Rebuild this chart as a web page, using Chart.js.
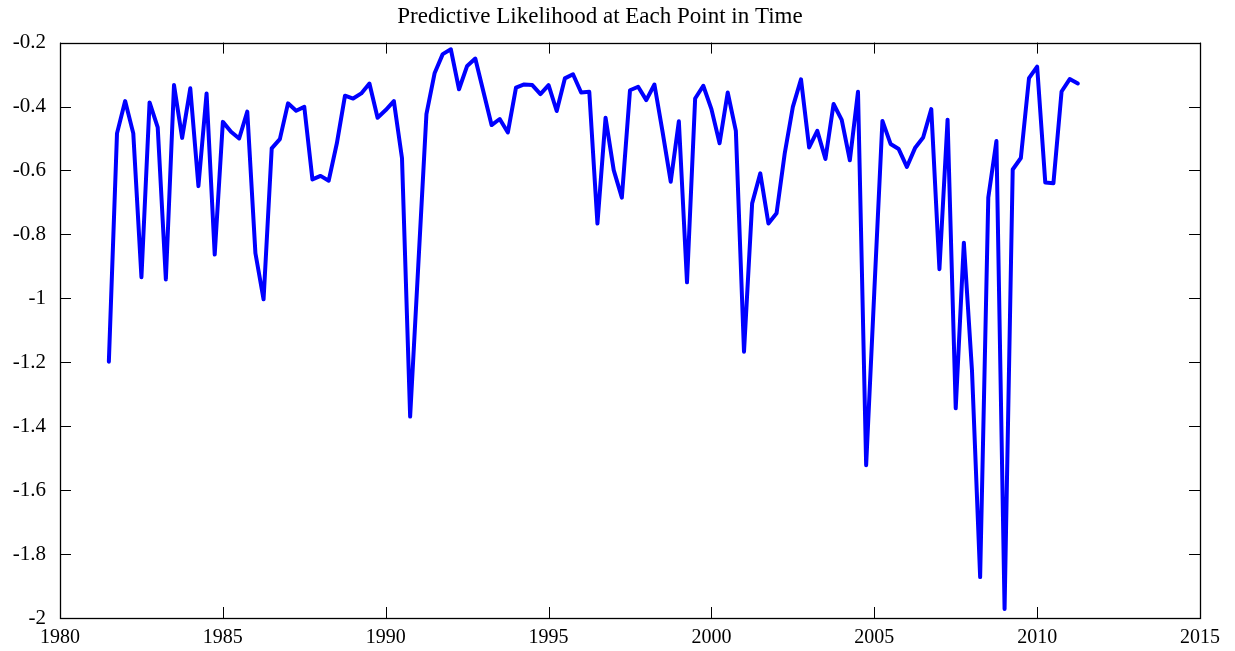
<!DOCTYPE html>
<html>
<head>
<meta charset="utf-8">
<title>Predictive Likelihood</title>
<script src="https://cdn.jsdelivr.net/npm/chart.js@4.4.1/dist/chart.umd.min.js"></script>
<style>
    html, body { margin: 0; padding: 0; background: #fff; }
    #wrap { width: 1235px; height: 651px; }
</style>
</head>
<body>
<div id="wrap"><canvas id="plChart" width="1235" height="651"></canvas></div>
<script>
// Quarterly dates (decimal years)
const quarters = [
    1981.5, 1981.75,
    1982, 1982.25, 1982.5, 1982.75,
    1983, 1983.25, 1983.5, 1983.75,
    1984, 1984.25, 1984.5, 1984.75,
    1985, 1985.25, 1985.5, 1985.75,
    1986, 1986.25, 1986.5, 1986.75,
    1987, 1987.25, 1987.5, 1987.75,
    1988, 1988.25, 1988.5, 1988.75,
    1989, 1989.25, 1989.5, 1989.75,
    1990, 1990.25, 1990.5, 1990.75,
    1991, 1991.25, 1991.5, 1991.75,
    1992, 1992.25, 1992.5, 1992.75,
    1993, 1993.25, 1993.5, 1993.75,
    1994, 1994.25, 1994.5, 1994.75,
    1995, 1995.25, 1995.5, 1995.75,
    1996, 1996.25, 1996.5, 1996.75,
    1997, 1997.25, 1997.5, 1997.75,
    1998, 1998.25, 1998.5, 1998.75,
    1999, 1999.25, 1999.5, 1999.75,
    2000, 2000.25, 2000.5, 2000.75,
    2001, 2001.25, 2001.5, 2001.75,
    2002, 2002.25, 2002.5, 2002.75,
    2003, 2003.25, 2003.5, 2003.75,
    2004, 2004.25, 2004.5, 2004.75,
    2005, 2005.25, 2005.5, 2005.75,
    2006, 2006.25, 2006.5, 2006.75,
    2007, 2007.25, 2007.5, 2007.75,
    2008, 2008.25, 2008.5, 2008.75,
    2009, 2009.25, 2009.5, 2009.75,
    2010, 2010.25, 2010.5, 2010.75,
    2011, 2011.25
];

// Predictive likelihood
const likelihood = [
    -1.198, -0.484,
    -0.383, -0.484, -0.934, -0.387,
    -0.465, -0.941, -0.333, -0.498,
    -0.343, -0.649, -0.359, -0.863,
    -0.448, -0.479, -0.500, -0.416,
    -0.859, -1.003, -0.531, -0.502,
    -0.390, -0.413, -0.401, -0.628,
    -0.617, -0.632, -0.515, -0.366,
    -0.375, -0.359, -0.328, -0.435,
    -0.411, -0.383, -0.562, -1.370,
    -0.897, -0.424, -0.296, -0.236,
    -0.221, -0.346, -0.273, -0.250,
    -0.354, -0.458, -0.439, -0.481,
    -0.341, -0.331, -0.333, -0.361,
    -0.333, -0.414, -0.312, -0.299,
    -0.356, -0.354, -0.766, -0.435,
    -0.599, -0.685, -0.349, -0.338,
    -0.380, -0.331, -0.479, -0.635,
    -0.446, -0.950, -0.375, -0.335,
    -0.408, -0.515, -0.356, -0.476,
    -1.167, -0.703, -0.609, -0.766,
    -0.734, -0.547, -0.401, -0.315,
    -0.528, -0.476, -0.564, -0.392,
    -0.442, -0.568, -0.354, -1.522,
    -0.980, -0.445, -0.517, -0.533,
    -0.589, -0.530, -0.497, -0.408,
    -0.909, -0.441, -1.344, -0.826,
    -1.227, -1.872, -0.685, -0.508,
    -1.972, -0.597, -0.561, -0.311,
    -0.275, -0.638, -0.640, -0.353,
    -0.314, -0.328
];

// Axis ranges / tick steps
const xRange = [1980, 2015];
const xStep = 5;
const yRange = [-2, -0.2];
const yStep = 0.2;

const titleText = "Predictive Likelihood at Each Point in Time";
const serif = "'Liberation Serif', 'DejaVu Serif', serif";

// Box around the plot with inward ticks on all four sides (Matlab style)
const boxTicks = {
    id: 'boxTicks',
    afterDraw(chart) {
        const { ctx, chartArea: a, scales } = chart;
        const len = 11;
        ctx.save();
        ctx.strokeStyle = '#000';
        ctx.lineWidth = 1;
        ctx.beginPath();

        scales.x.ticks.forEach(t => {
            const px = Math.round(scales.x.getPixelForValue(t.value)) + 0.5;
            ctx.moveTo(px, a.bottom);
            ctx.lineTo(px, a.bottom - len);
            ctx.moveTo(px, a.top);
            ctx.lineTo(px, a.top + len);
        });
        scales.y.ticks.forEach(t => {
            const py = Math.round(scales.y.getPixelForValue(t.value)) + 0.5;
            ctx.moveTo(a.left, py);
            ctx.lineTo(a.left + len, py);
            ctx.moveTo(a.right, py);
            ctx.lineTo(a.right - len, py);
        });
        ctx.stroke();

        ctx.lineWidth = 1.3;
        ctx.strokeRect(Math.round(a.left) + 0.5, Math.round(a.top) + 0.5,
            Math.round(a.right - a.left), Math.round(a.bottom - a.top));
        ctx.restore();
    }
};

const points = quarters.map((q, i) => ({ x: q, y: likelihood[i] }));

new Chart(document.getElementById('plChart'), {
    type: 'line',
    data: {
        datasets: [{
            label: 'Predictive likelihood',
            data: points,
            borderColor: '#0000ff',
            borderWidth: 4,
            borderJoinStyle: 'round',
            borderCapStyle: 'round',
            pointRadius: 0,
            tension: 0,
            fill: false
        }]
    },
    options: {
        responsive: false,
        animation: false,
        layout: { padding: { left: 0, right: 35, top: 0, bottom: 0 } },
        plugins: {
            legend: { display: false },
            tooltip: { enabled: false },
            title: {
                display: true,
                text: titleText,
                color: '#000',
                font: { family: serif, size: 23, weight: 'normal' },
                padding: { top: 3, bottom: 12 }
            }
        },
        scales: {
            x: {
                type: 'linear',
                min: xRange[0],
                max: xRange[1],
                grid: { display: false, drawTicks: false },
                border: { display: false },
                ticks: {
                    stepSize: xStep,
                    color: '#000',
                    padding: 8,
                    maxRotation: 0,
                    font: { family: serif, size: 20 },
                    callback: v => String(v)
                },
                afterFit: s => { s.height = 33; }
            },
            y: {
                min: yRange[0],
                max: yRange[1],
                grid: { display: false, drawTicks: false },
                border: { display: false },
                ticks: {
                    stepSize: yStep,
                    color: '#000',
                    padding: 14,
                    font: { family: serif, size: 21 },
                    callback: v => String(Math.round(v * 10) / 10)
                },
                afterFit: s => { s.width = 60; }
            }
        }
    },
    plugins: [boxTicks]
});
</script>
</body>
</html>
